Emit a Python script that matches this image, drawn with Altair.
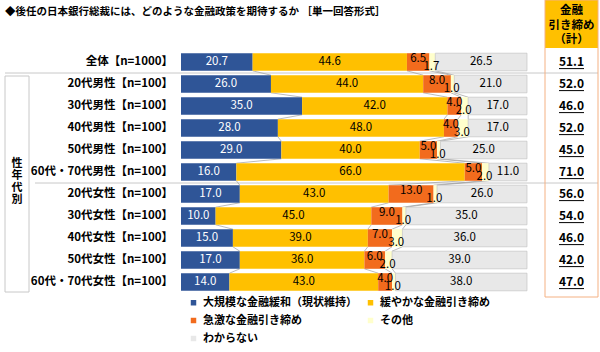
import altair as alt
import pandas as pd

FONT = "Noto Sans CJK JP"

title_text = "◆後任の日本銀行総裁には、どのような金融政策を期待するか ［単一回答形式］"
rows = ["全体【n=1000】", "20代男性【n=100】", "30代男性【n=100】", "40代男性【n=100】",
        "50代男性【n=100】", "60代・70代男性【n=100】", "20代女性【n=100】", "30代女性【n=100】",
        "40代女性【n=100】", "50代女性【n=100】", "60代・70代女性【n=100】"]
series = ["大規模な金融緩和（現状維持）", "緩やかな金融引き締め", "急激な金融引き締め", "その他", "わからない"]
colors = ["#2F5597", "#FFC000", "#F26B1D", "#FFFFCC", "#E8E8E8"]

large_easing = [20.7, 26.0, 35.0, 28.0, 29.0, 16.0, 17.0, 10.0, 15.0, 17.0, 14.0]
gradual_tight = [44.6, 44.0, 42.0, 48.0, 40.0, 66.0, 43.0, 45.0, 39.0, 36.0, 43.0]
sharp_tight = [6.5, 8.0, 4.0, 4.0, 5.0, 5.0, 13.0, 9.0, 7.0, 6.0, 4.0]
other = [1.7, 1.0, 2.0, 3.0, 1.0, 2.0, 1.0, 1.0, 3.0, 2.0, 1.0]
dont_know = [26.5, 21.0, 17.0, 17.0, 25.0, 11.0, 26.0, 35.0, 36.0, 39.0, 38.0]
tight_total = [51.1, 52.0, 46.0, 52.0, 45.0, 71.0, 56.0, 54.0, 46.0, 42.0, 47.0]
header_text_str = "金融\n引き締め\n（計）"
group_text_str = "性\n年\n代\n別"
x_ticks = [0, 0.25, 0.5, 0.75, 1.0]

values = [large_easing, gradual_tight, sharp_tight, other, dont_know]

recs = []
cums = []
for i, r in enumerate(rows):
    c = 0.0
    cum_row = []
    for j, s in enumerate(series):
        v = values[j][i]
        recs.append(dict(label=r, series=s, val=v, fs=c / 100, fe=(c + v) / 100,
                         fm=(c + v / 2) / 100, yt=i + 0.1, yb=i + 0.9, yc=i + 0.5))
        c += v
        cum_row.append(c)
    cums.append(cum_row)
df = pd.DataFrame(recs)

line_recs = []
seg = 0
for i in range(len(rows) - 1):
    for k in range(4):
        line_recs.append(dict(seg=seg, lx=cums[i][k] / 100, ly=i + 0.9))
        line_recs.append(dict(seg=seg, lx=cums[i + 1][k] / 100, ly=i + 1.1))
        seg += 1
df_lines = pd.DataFrame(line_recs)

df_rows = pd.DataFrame(dict(label=rows,
                            yc=[i + 0.5 for i in range(len(rows))],
                            yu=[i + 0.8 for i in range(len(rows))],
                            total=tight_total))

one = pd.DataFrame({"a": [0]})

yscale = alt.Scale(domain=[0, 11], reverse=True, nice=False, zero=False)
xscale = alt.Scale(domain=[0, 1], nice=False)
cscale = alt.Scale(domain=series, range=colors)


def X(f):
    return alt.X(f, axis=None)


def Y(f):
    return alt.Y(f, axis=None)


bars = alt.Chart(df).mark_bar().encode(
    x=alt.X("fs:Q", scale=xscale,
            axis=alt.Axis(orient="top", values=x_ticks, format=".0%",
                          domain=False, ticks=False, grid=False, labelPadding=7,
                          labelFont=FONT, labelFontSize=11.5, labelColor="#333333",
                          title=None)),
    x2="fe:Q",
    y=alt.Y("yt:Q", scale=yscale, axis=None),
    y2="yb:Q",
    color=alt.Color("series:N", scale=cscale,
                    legend=alt.Legend(orient="none", legendX=7, legendY=246, columns=2,
                                      direction="horizontal",
                                      title=None, symbolType="square", symbolSize=30,
                                      symbolStrokeWidth=0, labelFont=FONT, labelFontSize=11,
                                      labelFontWeight="bold", labelColor="#000000",
                                      columnPadding=8, rowPadding=6, labelLimit=400,
                                      labelOffset=4)),
)

gray_outline = alt.Chart(df[df["series"] == series[4]]).mark_bar(
    fillOpacity=0, stroke="#C4C4C4", strokeWidth=0.7).encode(
    x=X("fs:Q"), x2="fe:Q", y=Y("yt:Q"), y2="yb:Q")

series_lines = alt.Chart(df_lines).mark_line(color="#9E9E9E", strokeWidth=0.7).encode(
    x=X("lx:Q"), y=Y("ly:Q"), detail="seg:N")


def labels(j, color, dy=0, dx=0):
    return alt.Chart(df[df["series"] == series[j]]).mark_text(
        font=FONT, fontSize=11.5, color=color, dy=dy, dx=dx, baseline="middle").encode(
        x=X("fm:Q"), y=Y("yc:Q"), text=alt.Text("val:Q", format=".1f"))


lab_blue = labels(0, "#FFFFFF")
lab_yellow = labels(1, "#000000")
lab_sharp = labels(2, "#000000", dy=-3)
lab_other = labels(3, "#000000", dy=5, dx=-1)
lab_dk = labels(4, "#000000")

row_labels = alt.Chart(df_rows).mark_text(font=FONT, fontSize=11.5, fontWeight="bold",
                                          align="right", baseline="middle", color="#000000").encode(
    x=alt.value(-8), y=Y("yc:Q"), text="label:N")

sep1 = alt.Chart(one).mark_rule(color="#C8C8C8", strokeWidth=1).encode(
    x=alt.value(-176), x2=alt.value(417), y=alt.value(22))
sep2 = alt.Chart(one).mark_rule(color="#C8C8C8", strokeWidth=1).encode(
    x=alt.value(-146), x2=alt.value(417), y=alt.value(132))

group_box = alt.Chart(one).mark_rect(fillOpacity=0, stroke="#C8C8C8", strokeWidth=1).encode(
    x=alt.value(-176), x2=alt.value(-152), y=alt.value(25), y2=alt.value(241))
group_text = alt.Chart(one).mark_text(font=FONT, fontSize=11, fontWeight="bold",
                                      lineHeight=12, baseline="middle", align="center",
                                      lineBreak="\n").encode(
    x=alt.value(-164), y=alt.value(113), text=alt.value(group_text_str))

right_header = alt.Chart(one).mark_rect(fill="#FFC000").encode(
    x=alt.value(364), x2=alt.value(417), y=alt.value(-51), y2=alt.value(-3))
right_box = alt.Chart(one).mark_rect(fillOpacity=0, stroke="#F4B183", strokeWidth=1).encode(
    x=alt.value(364), x2=alt.value(417), y=alt.value(-51), y2=alt.value(246))
header_text = alt.Chart(one).mark_text(font=FONT, fontSize=11.5, fontWeight="bold",
                                       lineHeight=14.5, baseline="middle", align="center",
                                       lineBreak="\n").encode(
    x=alt.value(390.5), y=alt.value(-40), text=alt.value(header_text_str))

totals = alt.Chart(df_rows).mark_text(font=FONT, fontSize=12, fontWeight="bold",
                                      baseline="middle", align="center", color="#000000").encode(
    x=alt.value(390.5), y=Y("yc:Q"), text=alt.Text("total:Q", format=".1f"))
underline = alt.Chart(df_rows).mark_rule(color="#000000", strokeWidth=1).encode(
    x=alt.value(378), x2=alt.value(403), y=Y("yu:Q"))

title = alt.Chart(one).mark_text(font=FONT, fontSize=10.5, fontWeight="bold", align="left",
                                 baseline="middle", color="#000000").encode(
    x=alt.value(-176), y=alt.value(-39), text=alt.value(title_text))

chart = alt.layer(
    sep1, sep2, group_box, group_text, right_header, right_box, header_text,
    series_lines, bars, gray_outline, lab_blue, lab_yellow, lab_sharp, lab_other, lab_dk,
    row_labels, totals, underline, title
).properties(
    width=346, height=242,
    autosize=alt.AutoSizeParams(type="none"),
    padding={"left": 181, "top": 51, "right": 73, "bottom": 59},
).configure_view(strokeWidth=0)

chart.save("out.html", embed_options={"renderer": "svg", "actions": False})
